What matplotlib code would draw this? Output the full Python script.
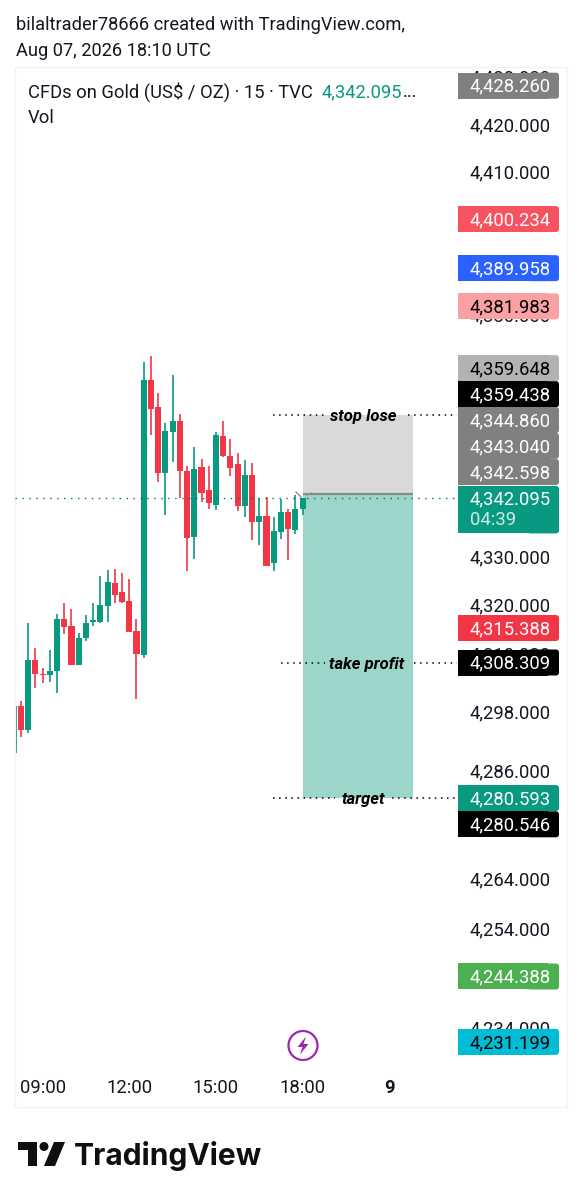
"""Gold 15m chart with long position box and price labels."""
import matplotlib
matplotlib.use("Agg")
import matplotlib.pyplot as plt
from matplotlib.patches import Circle, FancyBboxPatch, Polygon, Rectangle

W, H = 582, 1199
UP, DOWN = "#089981", "#f23645"
INK = "#131722"
FONT = "Roboto"

# bar index: 0 = 09:00, 15 minutes per bar
BARS = list(range(-4, 37))
OPENS = [4289.8, 4299.5, 4294.5, 4308.8, 4305.9, 4305.7, 4306.5, 4317.2, 4315.8, 4307.9,
         4313.3, 4316.6, 4316.6, 4319.9, 4324.6, 4322.8, 4320.9, 4314.7, 4309.8, 4366.6,
         4361.0, 4347.4, 4355.9, 4358.1, 4347.8, 4334.1, 4348.6, 4343.8, 4340.7, 4355.0,
         4350.9, 4349.2, 4340.5, 4346.9, 4337.2, 4338.5, 4328.8, 4335.2, 4339.3, 4335.6,
         4339.9]
HIGHS = [4299.5, 4300.5, 4316.4, 4311.2, 4307.1, 4310.8, 4318.3, 4320.5, 4319.3, 4314.3,
         4318.0, 4320.5, 4326.1, 4327.3, 4327.5, 4326.7, 4325.5, 4317.2, 4370.4, 4371.6,
         4364.0, 4357.7, 4367.7, 4359.6, 4348.8, 4352.7, 4350.3, 4348.8, 4355.9, 4358.1,
         4354.4, 4351.5, 4350.0, 4349.4, 4342.2, 4342.4, 4338.3, 4342.0, 4339.9, 4342.8,
         4342.1]
LOWS = [4289.8, 4293.0, 4293.9, 4303.0, 4304.2, 4304.4, 4302.0, 4314.1, 4307.7, 4307.9,
        4312.7, 4315.8, 4316.4, 4316.6, 4320.5, 4320.5, 4314.5, 4300.9, 4309.2, 4355.2,
        4345.5, 4338.7, 4349.6, 4342.2, 4327.1, 4329.6, 4341.4, 4339.9, 4339.7, 4350.7,
        4346.7, 4339.5, 4338.3, 4333.5, 4332.5, 4328.1, 4327.1, 4333.7, 4329.4, 4334.7,
        4338.7]
CLOSES = [4299.5, 4294.5, 4308.8, 4305.9, 4305.7, 4306.5, 4317.2, 4315.6, 4307.9, 4313.3,
          4316.4, 4317.0, 4320.1, 4324.8, 4322.2, 4320.7, 4314.5, 4310.0, 4366.6, 4360.6,
          4347.4, 4356.1, 4358.1, 4347.8, 4333.9, 4348.2, 4343.2, 4341.1, 4355.2, 4350.9,
          4348.4, 4340.5, 4346.9, 4337.2, 4338.5, 4328.1, 4335.4, 4339.3, 4335.8, 4339.9,
          4342.095]

TIME_TICKS = [0, 12, 24, 36, 48]
TIME_LABELS = ["09:00", "12:00", "15:00", "18:00", "9"]
PRICE_TICKS = [4430, 4420, 4410, 4400, 4390, 4380, 4370, 4360, 4350, 4340, 4330, 4320,
               4310, 4298, 4286, 4264, 4254, 4244, 4234]

LAST_PRICE = 4342.095
STOP, ENTRY, TARGET = 4359.438, 4343.040, 4280.593
BOX_START, BOX_END = 36, 51.3

# price, background, text colour, shift in px where the scale stacked the labels
TAGS = [
    (4428.260, "#808080", "white", 0),
    (4400.234, "#f7525f", "white", 0),
    (4389.958, "#2962ff", "white", 0),
    (4381.983, "#faa1a4", "black", 0),
    (4359.648, "#b2b2b2", "black", 45.5),
    (4359.438, "black", "white", 20.5),
    (4344.860, "#808080", "white", 65),
    (4343.040, "#808080", "white", 48),
    (4342.598, "#808080", "white", 24),
    (4315.388, DOWN, "white", 0),
    (4308.309, "black", "white", 0),
    (4280.593, UP, "white", 0),
    (4280.546, "black", "white", -26),
    (4244.388, "#4caf50", "white", 0),
    (4231.199, "#00bcd4", "black", 0),
]

fig = plt.figure(figsize=(W / 100, H / 100), dpi=100, facecolor="white")

# chart pane, log price scale like the original
ax = fig.add_axes([15 / W, 1 - 1107 / H, 552 / W, 1040 / H])
ax.set_yscale("log")
ax.set_xlim(-3.82, 72.6)
ax.set_ylim(4218.1, 4432.2)
ax.axis("off")

ax.add_patch(Rectangle((BOX_START, ENTRY), BOX_END - BOX_START, STOP - ENTRY, fc="#d9d9d9", ec="none", zorder=1))
ax.add_patch(Rectangle((BOX_START, TARGET), BOX_END - BOX_START, ENTRY - TARGET, fc="#9cd6ca", ec="none", zorder=1))
ax.plot([BOX_START, BOX_END], [ENTRY, ENTRY], color="#7f8f8c", lw=1.6, zorder=2, solid_capstyle="butt")

for x, o, h, l, c in zip(BARS, OPENS, HIGHS, LOWS, CLOSES):
    col = UP if c >= o else DOWN
    ax.vlines(x, l, h, color=col, lw=1.2, zorder=3)
    ax.bar(x, abs(c - o), bottom=min(o, c), width=0.84, color=col, zorder=3)

# overlay in pixel coordinates for the price scale and page furniture
ov = fig.add_axes([0, 0, 1, 1], facecolor="none")
ov.set_xlim(0, W)
ov.set_ylim(H, 0)
ov.axis("off")


def price_y(p):
    return H - ax.transData.transform((0, p))[1]


def bar_x(b):
    return ax.transData.transform((b, 4330))[0]


def tag(y_top, y_bot, color):
    # only the right corners are rounded
    ov.add_patch(FancyBboxPatch((530, y_top + 3), 26, y_bot - y_top - 6, boxstyle="round,pad=3,rounding_size=3",
                                fc=color, ec="none", zorder=5))
    ov.add_patch(Rectangle((458, y_top), 90, y_bot - y_top, fc=color, ec="none", zorder=5))


ov.add_patch(Rectangle((15, 67), 552, 1040, fc="none", ec="#f0f3fa", lw=1, zorder=0))
ov.plot([15, 458], [price_y(LAST_PRICE)] * 2, color="#0a6e5e", lw=1, ls=(0, (1, 4)), zorder=2)

for p in PRICE_TICKS:
    ov.text(551, price_y(p) - 1, f"{p:,.3f}", ha="right", va="center_baseline", fontsize=13.3, family=FONT, color=INK, zorder=4)

for price, bg, fg, shift in TAGS:
    y = price_y(price) - shift
    tag(y - 13, y + 13, bg)
    ov.text(551, y - 1, f"{price:,.3f}", ha="right", va="center_baseline", fontsize=13.3, family=FONT, color=fg, zorder=6)

y = price_y(LAST_PRICE)
tag(y - 12.5, y + 35, UP)
ov.text(551, y - 1, f"{LAST_PRICE:,.3f}", ha="right", va="center_baseline", fontsize=13.3, family=FONT, color="white", zorder=6)
ov.text(470, y + 20, "04:39", ha="left", va="center_baseline", fontsize=13.3, family=FONT, color="#cdeae4", zorder=6)

# horizontal lines with their text in a gap
for price, text, cx, left, right in [(STOP, "stop lose", 363, (273, 324), (408, 457)),
                                     (4308.309, "take profit", 367, (281, 325), (414, 457)),
                                     (4280.546, "target", 363, (273, 335), (392, 457))]:
    y = price_y(price)
    for a, b in (left, right):
        ov.plot([a, b], [y, y], color="black", lw=1.1, ls=(0, (1, 3)), zorder=4)
    ov.text(cx, y, text, ha="center", va="center_baseline", fontsize=12, family=FONT, style="italic",
            weight="bold", color="black", zorder=4)

# small grey arrow marks by the last bar
ov.plot([296, 301], [492, 497], color="#8a8f99", lw=1, zorder=4)
ov.plot([307, 311], [495, 493], color="#8a8f99", lw=1, zorder=4)

for b, lab in zip(TIME_TICKS, TIME_LABELS):
    ov.text(bar_x(b), 1086, lab, ha="center", va="center_baseline", fontsize=13.3, family=FONT, color=INK,
            weight="bold" if lab == "9" else "normal")

# purple bolt
ov.add_patch(Circle((303, 1045.5), 14.5, fc="white", ec="#9c27b0", lw=1.6, zorder=4))
ov.add_patch(Polygon([(306, 1036.5), (297.5, 1047), (302.5, 1047), (300, 1054.5), (308.5, 1044), (303.5, 1044)],
                     fc="#9c27b0", ec="none", zorder=5))

ov.text(16, 23, "bilaltrader78666 created with TradingView.com,", va="center_baseline", fontsize=13.15, family=FONT, color=INK)
ov.text(16, 49, "Aug 07, 2026 18:10 UTC", va="center_baseline", fontsize=13.15, family=FONT, color=INK)
ov.text(28, 90, "CFDs on Gold (US$ / OZ) · 15 · TVC", va="center_baseline", fontsize=13.2, family=FONT, color=INK)
ov.text(322, 90, "4,342.095", va="center_baseline", fontsize=13.2, family=FONT, color=UP)
ov.text(403, 90, "...", va="center_baseline", fontsize=13.2, family=FONT, color=INK)
ov.text(28, 116, "Vol", va="center_baseline", fontsize=13.2, family=FONT, color=INK)

# TradingView mark and wordmark
ov.add_patch(Polygon([(18, 1142), (37, 1142), (37, 1166), (28, 1166), (28, 1150), (18, 1150)], fc="#0f0f0f", ec="none"))
ov.add_patch(Circle((44, 1146.5), 4.5, fc="#0f0f0f", ec="none"))
ov.add_patch(Polygon([(54, 1142), (65, 1142), (55, 1166), (44, 1166)], fc="#0f0f0f", ec="none"))
ov.text(74, 1153, "TradingView", va="center_baseline", fontsize=21.6, family="Inter", weight="bold", color="#0f0f0f")

fig.savefig("out.png", dpi=100, facecolor="white")
